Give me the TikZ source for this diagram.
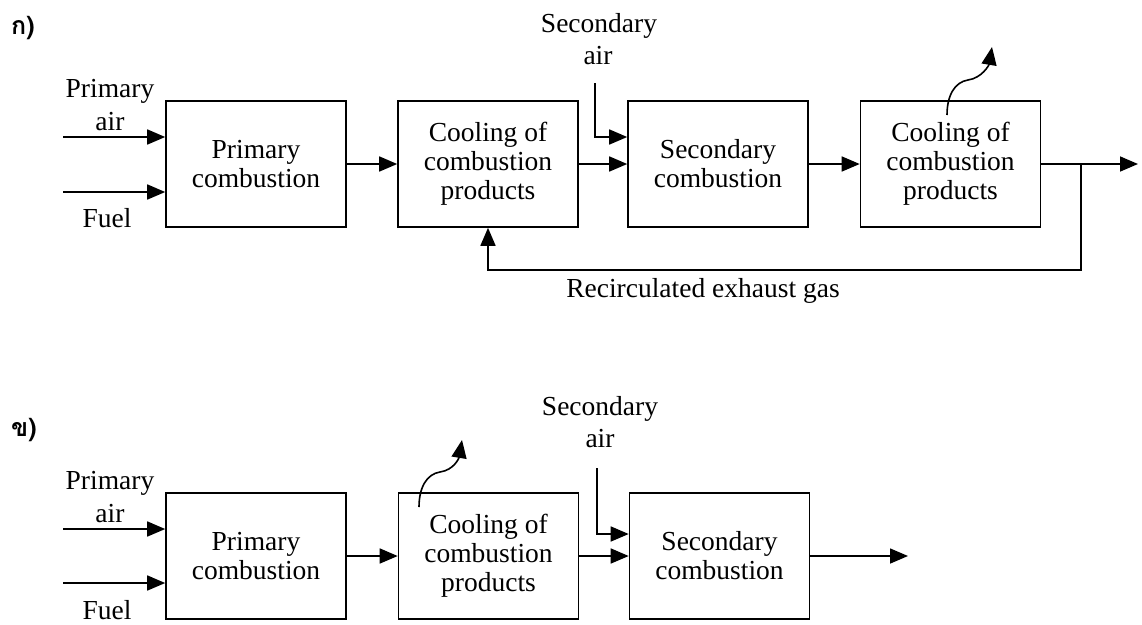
\documentclass[tikz,border=0pt]{standalone}
\usepackage{fontspec}
\setmainfont{Liberation Serif}
\newfontfamily\thaifont[Script=Thai]{Loma}
\usetikzlibrary{arrows.meta}
\newcommand\mainsz{\fontsize{27.5}{29}\selectfont}
\tikzset{
  blk/.style={draw, line width=1.6pt, minimum width=180pt, minimum height=126pt,
    inner sep=0pt, align=center, font=\mainsz},
  lbl/.style={inner sep=0pt, anchor=base, font=\mainsz},
  thl/.style={inner sep=0pt, anchor=base west, font=\thaifont\bfseries\fontsize{25}{27}\selectfont},
  conn/.style={line width=1.6pt, -{Triangle[length=18pt,width=15pt]}},
}
\begin{document}
\begin{tikzpicture}[x=1pt,y=-1pt]
\useasboundingbox (0,0) rectangle (1142,624);
% ---------- (a) ----------
\node[thl] (ta) at (11,34) {ก)};
\node[blk] (A1) at (256,164) {Primary\\combustion};
\node[blk] (A2) at (488,164) {Cooling of\\combustion\\products};
\node[blk] (A3) at (718,164) {Secondary\\combustion};
\node[blk] (A4) at (950.5,164) {Cooling of\\combustion\\products};
\node[lbl] (apa1) at (110,97) {Primary};
\node[lbl] (apa2) at (110,130) {air};
\node[lbl] (afu) at (107,227) {Fuel};
\node[lbl] (asa1) at (599,32) {Secondary};
\node[lbl] (asa2) at (598,64) {air};
\node[lbl] (arec) at (703,297) {Recirculated exhaust gas};
\coordinate (apa) at (63,137);
\coordinate (afl) at (63,192);
\coordinate (asa) at (595,83);
\coordinate (aout) at (1138,164);
\coordinate (aj) at (1081,164);
\coordinate (ajd) at (1081,270);
\coordinate (ahs) at (947,115);
\draw[conn] (apa) -- (apa -| A1.west);
\draw[conn] (afl) -- (afl -| A1.west);
\draw[conn] (A1.east) -- (A2.west);
\draw[conn] (A2.east) -- (A3.west);
\draw[conn] (asa) |- ([yshift=27pt]A3.west);
\draw[conn] (A3.east) -- (A4.west);
\draw[conn] (A4.east) -- (aout);
\draw[conn] (aj) -- (ajd) -| (A2.south);
\draw[conn] (ahs) .. controls +(0,-20) and +(-13,2) .. ++(21,-35)
  .. controls +(14,-2) and +(-3,18) .. ++(24,-33);
% ---------- (b) ----------
\node[thl] (tb) at (11,436) {ข)};
\node[blk] (B1) at (256,556) {Primary\\combustion};
\node[blk] (B2) at (488.5,556) {Cooling of\\combustion\\products};
\node[blk] (B3) at (719.5,556) {Secondary\\combustion};
\node[lbl] (bpa1) at (110,489) {Primary};
\node[lbl] (bpa2) at (110,522) {air};
\node[lbl] (bfu) at (107,619) {Fuel};
\node[lbl] (bsa1) at (600,415) {Secondary};
\node[lbl] (bsa2) at (600,447) {air};
\coordinate (bpa) at (63,529);
\coordinate (bfl) at (63,583);
\coordinate (bsa) at (597,468);
\coordinate (bout) at (908,556);
\coordinate (bhs) at (419,507);
\draw[conn] (bpa) -- (bpa -| B1.west);
\draw[conn] (bfl) -- (bfl -| B1.west);
\draw[conn] (B1.east) -- (B2.west);
\draw[conn] (B2.east) -- (B3.west);
\draw[conn] (bsa) |- ([yshift=22pt]B3.west);
\draw[conn] (B3.east) -- (bout);
\draw[conn] (bhs) .. controls +(0,-20) and +(-13,2) .. ++(21,-35)
  .. controls +(14,-2) and +(-3,18) .. ++(22,-32);
\end{tikzpicture}
\end{document}
